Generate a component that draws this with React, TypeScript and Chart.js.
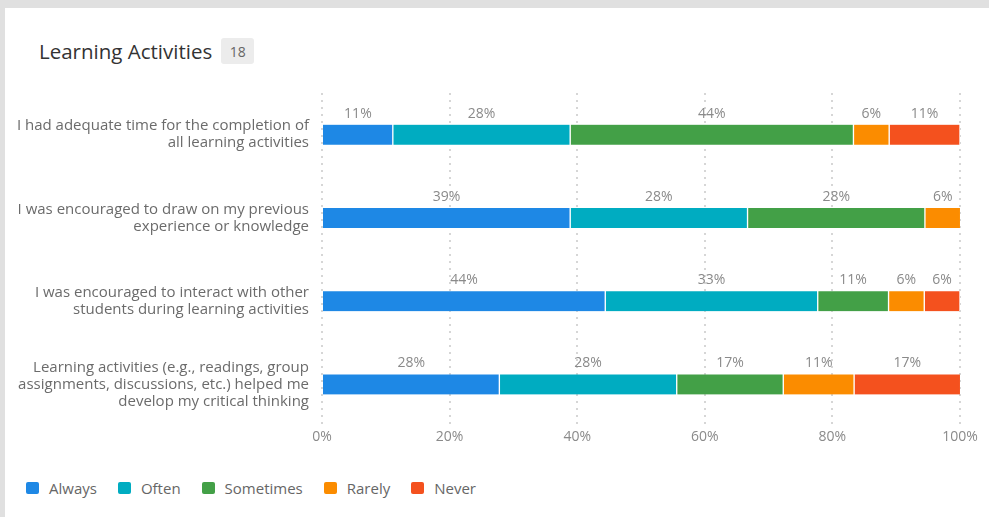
import React, { useEffect, useRef } from "react";
import { Chart, registerables } from "chart.js";

Chart.register(...registerables);

const categories: string[][] = [
  ["I had adequate time for the completion of", "all learning activities"],
  ["I was encouraged to draw on my previous", "experience or knowledge"],
  ["I was encouraged to interact with other", "students during learning activities"],
  ["Learning activities (e.g., readings, group", "assignments, discussions, etc.) helped me", "develop my critical thinking"],
];

const seriesNames = ["Always", "Often", "Sometimes", "Rarely", "Never"];
const seriesColors = ["#1e88e5", "#00acc1", "#43a047", "#fb8c00", "#f4511e"];

const always = [11.1, 38.9, 44.4, 27.8];
const often = [27.8, 27.8, 33.3, 27.8];
const sometimes = [44.4, 27.8, 11.1, 16.7];
const rarely = [5.6, 5.6, 5.6, 11.1];
const never = [11.1, 0, 5.6, 16.7];

const seriesValues = [always, often, sometimes, rarely, never];
const xTicks = [0, 20, 40, 60, 80, 100];
const responseCount = "18";

const FONT = "'Open Sans', 'Noto Sans', sans-serif";

const segmentLabels = {
  id: "segmentLabels",
  afterDatasetsDraw(chart: any) {
    const ctx = chart.ctx;
    ctx.save();
    ctx.font = `14px ${FONT}`;
    ctx.fillStyle = "#8a8a8a";
    ctx.textAlign = "center";
    ctx.textBaseline = "middle";
    chart.data.datasets.forEach((ds: any, di: number) => {
      const meta = chart.getDatasetMeta(di);
      meta.data.forEach((el: any, i: number) => {
        const v = ds.data[i];
        if (!v) return;
        const cx = (el.x + el.base) / 2;
        ctx.fillText(Math.round(v) + "%", cx, el.y - 21);
      });
    });
    ctx.restore();
  },
};

export default function App() {
  const ref = useRef<HTMLCanvasElement>(null);

  useEffect(() => {
    if (!ref.current) return;
    const chart = new Chart(ref.current, {
      type: "bar",
      data: {
        labels: categories,
        datasets: seriesNames.map((name, i) => ({
          label: name,
          data: seriesValues[i],
          backgroundColor: seriesColors[i],
          borderColor: "#ffffff",
          borderWidth: { left: i === 0 ? 0 : 1, right: 1, top: 0, bottom: 0 },
          borderSkipped: false,
          barThickness: 20,
        })),
      },
      options: {
        indexAxis: "y",
        animation: false,
        responsive: false,
        maintainAspectRatio: false,
        layout: { padding: { top: 85, right: 29, left: 0, bottom: 0 } },
        plugins: {
          legend: { display: false },
          tooltip: { enabled: false },
          title: { display: false },
        },
        scales: {
          x: {
            stacked: true,
            min: 0,
            max: 100,
            afterBuildTicks: (scale: any) => {
              scale.ticks = xTicks.map((v) => ({ value: v }));
            },
            afterFit: (scale: any) => {
              scale.height = 32;
            },
            ticks: {
              color: "#8a8a8a",
              font: { size: 14, family: FONT },
              padding: 3,
              callback: (v: any) => v + "%",
            },
            grid: {
              color: "#d6d6d6",
              lineWidth: 2,
              drawTicks: false,
            },
            border: { display: false, dash: [2, 5] },
          },
          y: {
            stacked: true,
            afterFit: (scale: any) => {
              scale.width = 317;
            },
            ticks: {
              color: "#6b6b6b",
              font: { size: 15, family: FONT, lineHeight: 1.13 },
              padding: 13,
            },
            grid: { display: false, drawTicks: false },
            border: { display: false },
          },
        },
      },
      plugins: [segmentLabels],
    });
    return () => chart.destroy();
  }, []);

  return (
    <div style={{ position: "fixed", inset: 0, background: "#e0e0e0", fontFamily: FONT }}>
      <div style={{ position: "absolute", left: 5, top: 8, right: 0, bottom: 0, background: "#ffffff" }}>
        <div
          style={{
            position: "absolute",
            left: 34,
            top: 29,
            display: "flex",
            alignItems: "center",
          }}
        >
          <span style={{ fontSize: 20.5, color: "#333333" }}>Learning Activities</span>
          <span
            style={{
              marginLeft: 9,
              background: "#ececec",
              borderRadius: 3,
              fontSize: 14,
              color: "#666666",
              width: 33,
              height: 26,
              display: "inline-flex",
              alignItems: "center",
              justifyContent: "center",
            }}
          >
            {responseCount}
          </span>
        </div>
        <canvas ref={ref} width={984} height={450} style={{ position: "absolute", left: 0, top: 0, width: 984, height: 450 }} />
        <div
          style={{
            position: "absolute",
            left: 21,
            top: 470,
            display: "flex",
            alignItems: "center",
            gap: 21,
          }}
        >
          {seriesNames.map((name, i) => (
            <div key={name} style={{ display: "flex", alignItems: "center" }}>
              <span
                style={{
                  width: 13,
                  height: 12,
                  borderRadius: 2,
                  background: seriesColors[i],
                  display: "inline-block",
                  marginRight: 10,
                }}
              />
              <span style={{ fontSize: 15, color: "#666666" }}>{name}</span>
            </div>
          ))}
        </div>
      </div>
    </div>
  );
}
